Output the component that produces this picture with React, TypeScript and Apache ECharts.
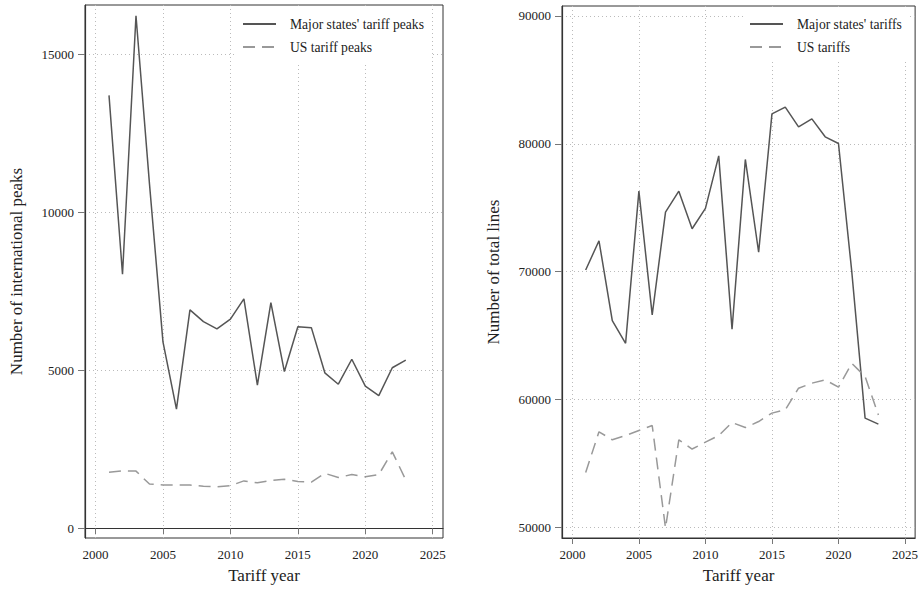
import React, { useEffect, useRef } from "react";
import * as echarts from "echarts";

const years = [2001, 2002, 2003, 2004, 2005, 2006, 2007, 2008, 2009, 2010, 2011, 2012, 2013, 2014, 2015, 2016, 2017, 2018, 2019, 2020, 2021, 2022, 2023];
const majorPeaks = [13700, 8040, 16220, 10900, 5900, 3770, 6910, 6540, 6310, 6620, 7260, 4530, 7140, 4960, 6380, 6350, 4920, 4560, 5350, 4500, 4200, 5080, 5320];
const usPeaks = [1770, 1820, 1810, 1400, 1370, 1370, 1370, 1330, 1310, 1350, 1500, 1440, 1510, 1550, 1480, 1460, 1740, 1610, 1700, 1630, 1700, 2420, 1530];
const majorLines = [70130, 72420, 66170, 64400, 76300, 66620, 74660, 76300, 73360, 74950, 79060, 65500, 78780, 71520, 82340, 82870, 81330, 81950, 80550, 80030, 70000, 58550, 58080];
const usLines = [54300, 57480, 56850, 57190, 57580, 57970, 49950, 56850, 56130, 56670, 57190, 58200, 57810, 58280, 58940, 59200, 60890, 61280, 61540, 60970, 62840, 61800, 58800];
const peakTicks = [0, 5000, 10000, 15000];
const lineTicks = [50000, 60000, 70000, 80000, 90000];
const yearTicks = [2000, 2005, 2010, 2015, 2020, 2025];

const names = {
  majorPeaks: "Major states' tariff peaks",
  usPeaks: "US tariff peaks",
  majorLines: "Major states' tariffs",
  usLines: "US tariffs",
};

const FONT = "Liberation Serif";

export default function App() {
  const ref = useRef<HTMLDivElement>(null);
  useEffect(() => {
    document.body.style.margin = "0";
    if (!ref.current) return;
    const chart = echarts.init(ref.current, null, { renderer: "svg" });
    const pair = (xs: number[], ys: number[]) => xs.map((x, i) => [x, ys[i]]);
    const plain = (v: number) => String(Math.round(v));
    const gridStyle = { show: true, borderColor: "#333", borderWidth: 1, backgroundColor: "#fff" };
    const splitLine = { show: true, lineStyle: { color: "#bbb", type: [1, 3] as any, width: 1 } };
    const axisLine = { show: true, lineStyle: { color: "#333", width: 1.2 } };
    const labelStyle = { fontFamily: FONT, fontSize: 13, color: "#222", formatter: plain };
    const nameStyle = { fontFamily: FONT, fontSize: 17, color: "#222" };
    const xAxisBase = (gridIndex: number) => ({
      type: "value",
      gridIndex,
      min: 1999.22,
      max: 2025.76,
      name: "Tariff year",
      nameLocation: "middle",
      nameGap: 29,
      nameTextStyle: nameStyle,
      axisLine,
      axisTick: { show: true, length: 6, lineStyle: { color: "#777" }, customValues: yearTicks },
      axisLabel: { ...labelStyle, margin: 10, customValues: yearTicks },
      splitLine,
    });
    const yAxisBase = (gridIndex: number, min: number, max: number, name: string, ticks: number[]) => ({
      type: "value",
      gridIndex,
      min,
      max,
      name,
      nameLocation: "middle",
      nameGap: 60,
      nameTextStyle: nameStyle,
      axisLine,
      axisTick: { show: true, length: 7, lineStyle: { color: "#777" }, customValues: ticks },
      axisLabel: { ...labelStyle, margin: 11, customValues: ticks },
      splitLine,
    });
    const legendBase = {
      orient: "vertical",
      top: 8,
      padding: [9, 8, 8, 6],
      itemGap: 9,
      itemWidth: 33,
      itemHeight: 2,
      backgroundColor: "#fff",
      itemStyle: { color: "rgba(0,0,0,0)", borderWidth: 0 },
      textStyle: { fontFamily: FONT, fontSize: 13.6, color: "#222", padding: [0, 0, 0, 9] },
    };
    chart.setOption({
      animation: false,
      backgroundColor: "#fff",
      grid: [
        { left: 85, right: 478, top: 5, bottom: 54, ...gridStyle },
        { left: 562, right: 1, top: 6, bottom: 54, ...gridStyle },
      ],
      legend: [
        { ...legendBase, left: 236, data: [names.majorPeaks, names.usPeaks] },
        { ...legendBase, left: 743, data: [names.majorLines, names.usLines] },
      ],
      xAxis: [xAxisBase(0), xAxisBase(1)],
      yAxis: [
        yAxisBase(0, -307, 16560, "Number of international peaks", peakTicks),
        yAxisBase(1, 49172, 90781, "Number of total lines", lineTicks),
      ],
      series: [
        {
          name: names.majorPeaks, type: "line", xAxisIndex: 0, yAxisIndex: 0, symbol: "none",
          data: pair(years, majorPeaks), lineStyle: { color: "#555", width: 1.5 }, itemStyle: { color: "#555" },
        },
        {
          name: names.usPeaks, type: "line", xAxisIndex: 0, yAxisIndex: 0, symbol: "none",
          data: pair(years, usPeaks), lineStyle: { color: "#999", width: 1.5, type: [12, 7] }, itemStyle: { color: "#999" },
        },
        {
          name: names.majorLines, type: "line", xAxisIndex: 1, yAxisIndex: 1, symbol: "none",
          data: pair(years, majorLines), lineStyle: { color: "#555", width: 1.5 }, itemStyle: { color: "#555" },
        },
        {
          name: names.usLines, type: "line", xAxisIndex: 1, yAxisIndex: 1, symbol: "none",
          data: pair(years, usLines), lineStyle: { color: "#999", width: 1.5, type: [12, 7] }, itemStyle: { color: "#999" },
        },
      ],
    });
    return () => chart.dispose();
  }, []);
  return <div ref={ref} style={{ width: 921, height: 592 }} />;
}
